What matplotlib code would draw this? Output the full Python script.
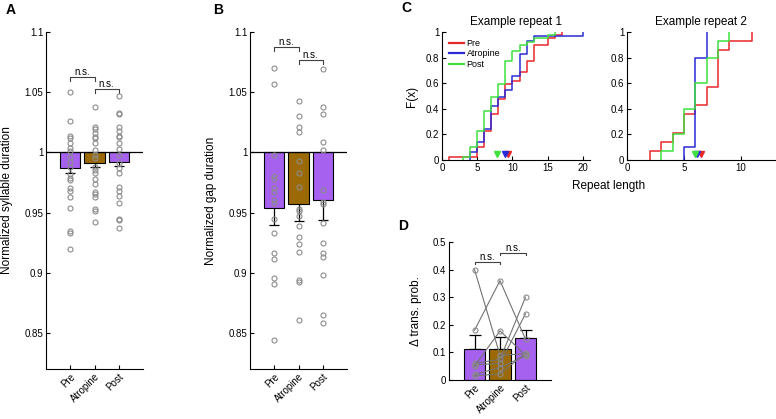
import matplotlib

matplotlib.use("Agg")
import matplotlib.pyplot as plt
import numpy as np

plt.rcParams["font.family"] = ["Liberation Sans", "DejaVu Sans"]
plt.rcParams["axes.linewidth"] = 0.8

# ---- data ----
conds = ["Pre", "Atropine", "Post"]

syl_pre = [1.050, 1.026, 1.014, 1.012, 1.008, 1.004, 1.001, 0.996, 0.992, 0.988,
           0.982, 0.979, 0.977, 0.970, 0.968, 0.963, 0.954, 0.935, 0.933, 0.920]
syl_atr = [1.038, 1.021, 1.019, 1.016, 1.013, 1.012, 1.008, 1.002, 0.998, 0.995,
           0.988, 0.985, 0.983, 0.978, 0.974, 0.967, 0.965, 0.963, 0.953, 0.951, 0.942]
syl_post = [1.047, 1.033, 1.032, 1.021, 1.018, 1.014, 1.013, 1.008, 1.003, 0.998,
            0.991, 0.987, 0.983, 0.971, 0.968, 0.964, 0.958, 0.945, 0.944, 0.937]
syl_mean = [0.9867, 0.991, 0.992]
syl_sem = [0.0042, 0.0035, 0.0035]

gap_pre = [1.070, 1.057, 0.998, 0.980, 0.978, 0.970, 0.967, 0.960, 0.958, 0.945,
           0.933, 0.916, 0.911, 0.896, 0.891, 0.844]
gap_atr = [1.043, 1.030, 1.021, 1.017, 0.993, 0.983, 0.971, 0.953, 0.951, 0.947,
           0.939, 0.930, 0.924, 0.917, 0.894, 0.892, 0.861]
gap_post = [1.069, 1.038, 1.032, 1.009, 1.002, 0.969, 0.959, 0.957, 0.941, 0.925,
            0.916, 0.913, 0.898, 0.865, 0.858]
gap_mean = [0.954, 0.957, 0.960]
gap_sem = [0.014, 0.014, 0.016]

# ECDF steps, example repeat 1
r1_pre_x = [1, 5, 6, 7, 8, 9, 10, 11, 12, 13, 15, 16, 17]
r1_pre_f = [0.025, 0.10, 0.23, 0.36, 0.48, 0.59, 0.62, 0.69, 0.77, 0.90, 0.95, 0.975, 1.0]
r1_atr_x = [4, 5, 6, 7, 8, 9, 10, 11, 12, 13, 20]
r1_atr_f = [0.065, 0.14, 0.24, 0.42, 0.49, 0.55, 0.66, 0.83, 0.93, 0.97, 1.0]
r1_post_x = [3, 4, 5, 6, 7, 8, 9, 10, 11, 12, 13, 15, 16]
r1_post_f = [0.025, 0.10, 0.23, 0.385, 0.49, 0.59, 0.77, 0.85, 0.90, 0.92, 0.95, 0.975, 1.0]
r1_median = [9.4, 9.0, 7.8]

# ECDF steps, example repeat 2
r2_pre_x = [2, 3, 4, 5, 6, 7, 8, 9, 11]
r2_pre_f = [0.071, 0.143, 0.214, 0.357, 0.429, 0.571, 0.857, 0.929, 1.0]
r2_atr_x = [5, 6, 7]
r2_atr_f = [0.10, 0.80, 1.0]
r2_post_x = [3, 4, 5, 6, 7, 8, 9]
r2_post_f = [0.067, 0.20, 0.40, 0.60, 0.80, 0.933, 1.0]
r2_median = [6.5, 6.15, 5.95]

# transition probability change, one row per bird: Pre, Atropine, Post
tp_birds = [
    [0.400, 0.090, 0.095],
    [0.180, 0.360, 0.148],
    [0.060, 0.075, 0.300],
    [0.055, 0.060, 0.240],
    [0.050, 0.178, 0.090],
    [0.020, 0.045, 0.088],
    [0.015, 0.022, 0.097],
]
tp_mean = [0.111, 0.113, 0.151]
tp_sem = [0.051, 0.044, 0.031]

# ---- style ----
purple = "#a661ef"
brown = "#9b6a06"
bar_colors = [purple, brown, purple]
cdf_colors = ["#e8272b", "#2b2bd6", "#3fe03f"]
pt_gray = "0.55"
W, H = 776, 419


def rect(l, t, r, b):
    return [l / W, 1 - b / H, (r - l) / W, (b - t) / H]


def fmt(v):
    return f"{v:g}"


def style(ax):
    for s in ("top", "right"):
        ax.spines[s].set_visible(False)
    ax.tick_params(direction="in", length=3, width=0.8, labelsize=7, pad=2)


def bracket(ax, x0, x1, y, dy):
    ax.plot([x0, x0, x1, x1], [y - dy, y, y, y - dy], color="0.25", lw=0.8)
    ax.text((x0 + x1) / 2, y, "n.s.", ha="center", va="bottom", fontsize=7)


def duration_panel(ax, groups, means, sems, ylabel, ns):
    xs = np.arange(1, 4)
    ax.errorbar(xs, means, yerr=sems, fmt="none", ecolor="k", elinewidth=0.9,
                capsize=3.5, capthick=0.9, zorder=1)
    ax.bar(xs, np.array(means) - 1, bottom=1, width=0.83, color=bar_colors,
           edgecolor="k", linewidth=0.8, zorder=2)
    ax.axhline(1, color="k", lw=0.9, zorder=3)
    for x, g in zip(xs, groups):
        ax.plot(np.full(len(g), x), g, "o", mfc="none", mec=pt_gray, ms=3.6,
                mew=0.8, zorder=5)
    ax.set_xlim(0, 4)
    ax.set_ylim(0.82, 1.1)
    yt = [0.85, 0.9, 0.95, 1, 1.05, 1.1]
    ax.set_yticks(yt)
    ax.set_yticklabels([fmt(v) for v in yt])
    ax.set_xticks(xs)
    ax.set_xticklabels(conds, rotation=45, ha="right", rotation_mode="anchor",
                       fontsize=7.5)
    style(ax)
    ax.set_ylabel(ylabel, fontsize=8.5)
    ax.yaxis.set_label_coords(-0.34, 0.5)
    bracket(ax, 1, 2, ns[0], 0.003)
    bracket(ax, 2, 3, ns[1], 0.003)


fig = plt.figure(figsize=(W / 100, H / 100), dpi=100)

axA = fig.add_axes(rect(46, 32, 143, 369))
duration_panel(axA, [syl_pre, syl_atr, syl_post], syl_mean, syl_sem,
               "Normalized syllable duration", [1.0625, 1.0525])

axB = fig.add_axes(rect(250, 32, 347, 369))
duration_panel(axB, [gap_pre, gap_atr, gap_post], gap_mean, gap_sem,
               "Normalized gap duration", [1.0875, 1.0767])

# ---- C ----
def cdf_panel(ax, series, medians, xmax, xt):
    for (x, f), c, lab in zip(series, cdf_colors, conds):
        ax.step([x[0]] + list(x), [0] + list(f), where="post", color=c, lw=1.1,
                label=lab)
    for m, c in zip(medians, cdf_colors):
        ax.plot(m, 0.045, "v", color=c, ms=5, mec=c)
    ax.set_xlim(0, xmax)
    ax.set_ylim(0, 1)
    ax.set_xticks(xt)
    yt = [0, 0.2, 0.4, 0.6, 0.8, 1]
    ax.set_yticks(yt)
    ax.set_yticklabels([fmt(v) for v in yt])
    style(ax)


axC1 = fig.add_axes(rect(442, 32, 590, 160))
cdf_panel(axC1, [(r1_pre_x, r1_pre_f), (r1_atr_x, r1_atr_f), (r1_post_x, r1_post_f)],
          r1_median, 21, [0, 5, 10, 15, 20])
axC1.set_title("Example repeat 1", fontsize=8.5, pad=5)
axC1.set_ylabel("F(x)", fontsize=8.5)
axC1.yaxis.set_label_coords(-0.16, 0.5)
leg = axC1.legend(loc="upper left", frameon=False, fontsize=6.5, handlelength=1.6,
                  handletextpad=0.3, labelspacing=0.15, borderaxespad=0.1,
                  bbox_to_anchor=(0.02, 0.98))
for line in leg.get_lines():
    line.set_linewidth(1.6)

axC2 = fig.add_axes(rect(627, 32, 775, 160))
cdf_panel(axC2, [(r2_pre_x, r2_pre_f), (r2_atr_x, r2_atr_f), (r2_post_x, r2_post_f)],
          r2_median, 13, [0, 5, 10])
axC2.set_title("Example repeat 2", fontsize=8.5, pad=5)
fig.text(609 / W, 1 - 186 / H, "Repeat length", ha="center", va="center",
         fontsize=8.5)

# ---- D ----
axD = fig.add_axes(rect(449, 242, 551, 380))
xs = np.arange(1, 4)
axD.errorbar(xs, tp_mean, yerr=[np.zeros(3), tp_sem], fmt="none", ecolor="k",
             elinewidth=0.9, capsize=4, capthick=0.9, zorder=1)
axD.bar(xs, tp_mean, width=0.86, color=bar_colors, edgecolor="k", linewidth=0.8,
        zorder=2)
for bird in tp_birds:
    axD.plot(xs, bird, "-o", color="0.45", lw=0.8, mfc="none", mec=pt_gray,
             ms=3.6, mew=0.8, zorder=3)
axD.set_xlim(0, 4)
axD.set_ylim(0, 0.5)
yt = [0, 0.1, 0.2, 0.3, 0.4, 0.5]
axD.set_yticks(yt)
axD.set_yticklabels([fmt(v) for v in yt])
axD.set_xticks(xs)
axD.set_xticklabels(conds, rotation=45, ha="right", rotation_mode="anchor",
                    fontsize=7.5)
style(axD)
axD.set_ylabel("\u0394 trans. prob.", fontsize=8.5)
axD.yaxis.set_label_coords(-0.26, 0.5)
bracket(axD, 1, 2, 0.427, 0.006)
bracket(axD, 2, 3, 0.46, 0.006)

# panel letters
for lab, x, y in [("A", 11, 10), ("B", 218, 10), ("C", 406, 8), ("D", 403, 226)]:
    fig.text(x / W, 1 - y / H, lab, fontsize=10, fontweight="bold",
             ha="center", va="center")

fig.savefig("out.png", dpi=100)
